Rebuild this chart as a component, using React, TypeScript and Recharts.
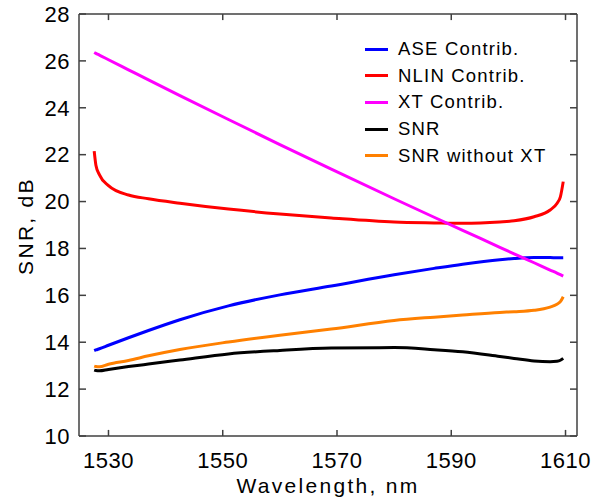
import React from "react";
import { LineChart, Line, XAxis, YAxis, Legend, ReferenceLine } from "recharts";

const wavelength = [1527.5, 1527.8, 1528.4, 1530, 1533.5, 1537, 1542.5, 1551, 1560, 1569, 1580, 1587, 1592, 1598.5, 1601, 1604.5, 1607.3, 1608.5, 1609.1, 1609.6];
const aseContrib = [13.64, 13.67, 13.72, 13.87, 14.19, 14.5, 14.96, 15.55, 16.02, 16.4, 16.88, 17.15, 17.33, 17.52, 17.57, 17.61, 17.61, 17.6, 17.6, 17.6];
const nlinContrib = [22.15, 21.55, 21.15, 20.68, 20.28, 20.12, 19.93, 19.68, 19.47, 19.3, 19.13, 19.09, 19.07, 19.13, 19.18, 19.35, 19.64, 19.92, 20.2, 20.85];
const xtContrib = [26.36, 26.32, 26.25, 26.05, 25.62, 25.19, 24.52, 23.5, 22.43, 21.38, 20.12, 19.33, 18.77, 18.05, 17.77, 17.39, 17.08, 16.95, 16.88, 16.82];
const snr = [12.81, 12.79, 12.78, 12.84, 12.96, 13.07, 13.24, 13.5, 13.65, 13.75, 13.77, 13.68, 13.59, 13.39, 13.31, 13.2, 13.17, 13.19, 13.23, 13.31];
const snrNoXt = [12.98, 12.96, 12.95, 13.06, 13.22, 13.42, 13.69, 14.01, 14.3, 14.56, 14.93, 15.07, 15.16, 15.27, 15.3, 15.36, 15.5, 15.62, 15.73, 15.94];

const xTicks = [1530, 1550, 1570, 1590, 1610];
const yTicks = [10, 12, 14, 16, 18, 20, 22, 24, 26, 28];

const series = [
  { key: "ase", name: "ASE Contrib.", color: "#0000ff", values: aseContrib },
  { key: "nlin", name: "NLIN Contrib.", color: "#ff0000", values: nlinContrib },
  { key: "xt", name: "XT Contrib.", color: "#ff00ff", values: xtContrib },
  { key: "snr", name: "SNR", color: "#000000", values: snr },
  { key: "snrNoXt", name: "SNR without XT", color: "#ff8000", values: snrNoXt },
];

const data = wavelength.map((wl, i) => {
  const row: Record<string, number> = { wl };
  series.forEach((s) => (row[s.key] = s.values[i]));
  return row;
});

const font = "'Liberation Sans', Arial, Helvetica, sans-serif";
const axisColor = "#404040";
const X_MIN = 1524.84;
const X_MAX = 1612.01;
const Y_MIN = 10;
const Y_MAX = 28;
// inward tick lengths in axis units (about 6px vertical, 7px horizontal)
const X_TICK_LEN = 0.26;
const Y_TICK_LEN = 1.23;

const LeftTick = (p: any) => (
  <text x={Number(p.x)} y={Number(p.y)} dy="0.355em" textAnchor="end" fontSize={22} letterSpacing={0.5} fontFamily={font} fill="#000">
    {p.payload.value}
  </text>
);

const BottomTick = (p: any) => (
  <text x={Number(p.x)} y={Number(p.y)} dy="0.71em" textAnchor="middle" fontSize={22} letterSpacing={0.5} fontFamily={font} fill="#000">
    {p.payload.value}
  </text>
);

const XTitle = () => (
  <text x={328} y={493} textAnchor="middle" fontSize={21} letterSpacing={2.3} fontFamily={font} fill="#000">
    Wavelength, nm
  </text>
);

const YTitle = () => (
  <text
    x={33}
    y={226}
    transform="rotate(-90 33 226)"
    textAnchor="middle"
    fontSize={21}
    letterSpacing={2.3}
    fontFamily={font}
    fill="#000"
  >
    SNR, dB
  </text>
);

const LegendBox = () => (
  <div style={{ fontFamily: font, fontSize: 18.5, letterSpacing: 1.2, color: "#000" }}>
    {series.map((s) => (
      <div key={s.key} style={{ height: 26.6, display: "flex", alignItems: "center" }}>
        <div style={{ width: 23, height: 3, background: s.color, marginRight: 10, flexShrink: 0 }} />
        <span style={{ whiteSpace: "nowrap" }}>{s.name}</span>
      </div>
    ))}
  </div>
);

export default function App() {
  const tickSegs = [
    ...xTicks.map((t) => [{ x: t, y: Y_MIN }, { x: t, y: Y_MIN + X_TICK_LEN }]),
    ...xTicks.map((t) => [{ x: t, y: Y_MAX }, { x: t, y: Y_MAX - X_TICK_LEN }]),
    ...yTicks.map((v) => [{ x: X_MIN, y: v }, { x: X_MIN + Y_TICK_LEN, y: v }]),
    ...yTicks.map((v) => [{ x: X_MAX, y: v }, { x: X_MAX - Y_TICK_LEN, y: v }]),
  ];

  return (
    <div style={{ position: "absolute", left: 0, top: 0, width: 592, height: 502, background: "#fff" }}>
      <LineChart width={592} height={502} data={data} margin={{ top: 4, right: 5, bottom: 16, left: 19 }}>
        <XAxis
          xAxisId="bottom"
          dataKey="wl"
          type="number"
          domain={[X_MIN, X_MAX]}
          allowDataOverflow
          ticks={xTicks}
          interval={0}
          height={50}
          tickLine={false}
          tickSize={0}
          tickMargin={16}
          tick={(p: any) => <BottomTick {...p} />}
          stroke={axisColor}
          strokeWidth={1.5}
          label={<XTitle />}
        />
        <XAxis
          xAxisId="top"
          orientation="top"
          dataKey="wl"
          type="number"
          domain={[X_MIN, X_MAX]}
          allowDataOverflow
          ticks={xTicks}
          height={10}
          tickLine={false}
          tick={false}
          stroke={axisColor}
          strokeWidth={1.5}
        />
        <YAxis
          yAxisId="left"
          type="number"
          domain={[Y_MIN, Y_MAX]}
          ticks={yTicks}
          interval={0}
          width={60}
          tickLine={false}
          tickSize={0}
          tickMargin={9}
          tick={(p: any) => <LeftTick {...p} />}
          stroke={axisColor}
          strokeWidth={1.5}
          label={<YTitle />}
        />
        <YAxis
          yAxisId="right"
          orientation="right"
          type="number"
          domain={[Y_MIN, Y_MAX]}
          ticks={yTicks}
          width={10}
          tickLine={false}
          tick={false}
          stroke={axisColor}
          strokeWidth={1.5}
        />
        {tickSegs.map((seg, i) => (
          <ReferenceLine
            key={`tick-${i}`}
            xAxisId="bottom"
            yAxisId="left"
            segment={seg}
            stroke={axisColor}
            strokeWidth={1.5}
            ifOverflow="visible"
          />
        ))}
        <Legend
          layout="vertical"
          align="center"
          verticalAlign="middle"
          content={<LegendBox />}
          wrapperStyle={{ position: "absolute", left: 365, top: 36, width: 220 }}
        />
        {series.map((s) => (
          <Line
            key={s.key}
            xAxisId="bottom"
            yAxisId="left"
            dataKey={s.key}
            name={s.name}
            stroke={s.color}
            strokeWidth={3}
            type="monotone"
            dot={false}
            isAnimationActive={false}
          />
        ))}
      </LineChart>
    </div>
  );
}
